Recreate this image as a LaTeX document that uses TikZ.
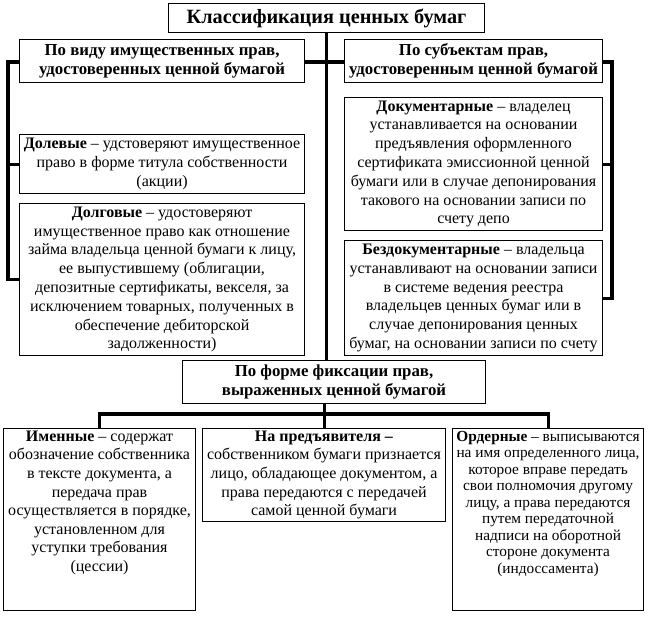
\documentclass[tikz,border=0pt]{standalone}
\usepackage{fontspec}
\setmainfont{Liberation Serif}
\usetikzlibrary{backgrounds}
\newcommand\mybox[5]{\node[box, minimum width={(#4-#2)*0.75pt}, minimum height={(#5-#3)*0.75pt}] (#1) at (#2,#3) {};}
\begin{document}
\begin{tikzpicture}[x=0.75pt,y=-0.75pt,
  box/.style={draw, line width=0.8pt, fill=white, inner sep=0pt, anchor=north west},
  body/.style={align=center, inner sep=0pt, font=\fontsize{12}{14.1}\selectfont},
  head/.style={align=center, inner sep=0pt, font=\fontsize{12.6}{14.4}\selectfont\bfseries},
  conn/.style={line width=2.3pt, line join=miter}]
\useasboundingbox (0,0) rectangle (648,617);
% boxes
\mybox{title}{168}{3}{484}{32}
\mybox{hl}{19}{39}{304}{82}
\mybox{hr}{344}{39}{602}{82}
\mybox{dolev}{19}{134}{304}{193}
\mybox{dolg}{19}{203}{304}{355}
\mybox{dok}{344}{97}{602}{230}
\mybox{bezdok}{344}{240}{602}{355}
\mybox{fix}{182}{360}{485}{403}
\mybox{imen}{3}{428}{195}{610}
\mybox{pred}{202}{428}{445}{521}
\mybox{ord}{452}{428}{643}{610}
% texts
\node[head, font=\fontsize{15.2}{17}\selectfont\bfseries] (titleT) at (title.center) {Классификация ценных бумаг};
\node[head] (hlT) at (hl.center) {По виду имущественных прав,\\удостоверенных ценной бумагой};
\node[head] (hrT) at (hr.center) {По субъектам прав,\\удостоверенным ценной бумагой};
\node[body] (dolevT) at (dolev.center) {\textbf{Долевые} – удстоверяют имущественное\\право в форме титула собственности\\(акции)};
\node[body] (dolgT) at (dolg.center) {\textbf{Долговые} – удостоверяют\\имущественное право как отношение\\займа владельца ценной бумаги к лицу,\\ее выпустившему (облигации,\\депозитные сертификаты, векселя, за\\исключением товарных, полученных в\\обеспечение дебиторской\\задолженности)};
\node[body] (dokT) at (dok.center) {\textbf{Документарные} – владелец\\устанавливается на основании\\предъявления оформленного\\сертификата эмиссионной ценной\\бумаги или в случае депонирования\\такового на основании записи по\\счету депо};
\node[body] (bezdokT) at (bezdok.center) {\textbf{Бездокументарные} – владельца\\устанавливают на основании записи\\в системе ведения реестра\\владельцев ценных бумаг или в\\случае депонирования ценных\\бумаг, на основании записи по счету};
\node[head] (fixT) at (fix.center) {По форме фиксации прав,\\выраженных ценной бумагой};
\node[body, anchor=north, font=\fontsize{12}{13.9}\selectfont] (imenT) at ([yshift=-2pt]imen.north) {\textbf{Именные} – содержат\\обозначение собственника\\в тексте документа, а\\передача прав\\осуществляется в порядке,\\установленном для\\уступки требования\\(цессии)};
\node[body, anchor=north, font=\fontsize{12}{13.9}\selectfont] (predT) at ([yshift=-2pt]pred.north) {\textbf{На предъявителя –}\\собственником бумаги признается\\лицо, обладающее документом, а\\права передаются с передачей\\самой ценной бумаги};
\node[body, anchor=north, font=\fontsize{11.5}{12.4}\selectfont] (ordT) at ([yshift=-2pt]ord.north) {\textbf{Ордерные} – выписываются\\на имя определенного лица,\\которое вправе передать\\свои полномочия другому\\лицу, а права передаются\\путем передаточной\\надписи на оборотной\\стороне документа\\(индоссамента)};
% connectors
\begin{pgfonlayer}{background}
\coordinate (lt) at (8,62);
\coordinate (rt) at (612,62);
\coordinate (hb) at (0,414);
\draw[conn] (dolg.west) -| (lt) -- (rt) |- (bezdok.east);
\draw[conn] (lt |- dolev.west) -- (dolev.west);
\draw[conn] (rt |- dok.east) -- (dok.east);
\draw[conn] (title.south) -- (title.south |- fix.north);
\draw[conn] (pred.north |- fix.south) -- (pred.north);
\draw[conn] (imen.north) -- (imen.north |- hb) -- (ord.north |- hb) -- (ord.north);
\end{pgfonlayer}
\end{tikzpicture}
\end{document}
